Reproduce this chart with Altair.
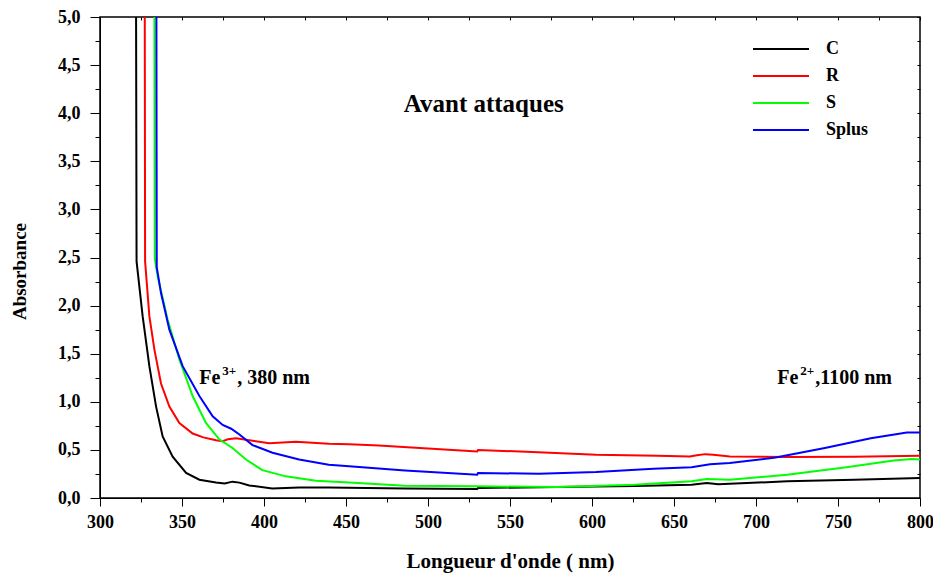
import altair as alt
import pandas as pd

series_names = ["C", "R", "S", "Splus"]
series_colors = ["#000000", "#ff0000", "#00ff00", "#0000ff"]

c_nm = [322.0, 322.3, 326.0, 330.1, 334.2, 338.2, 344.3, 352.5, 360.6, 370.7, 376.0, 380.8, 385.0, 391.0, 405.0, 421.4, 439.5, 486.0, 530.0, 530.5, 579.0, 626.0, 660.7, 670.0, 677.0, 719.0, 760.0, 800.0]
c_abs = [5.0, 2.46, 1.89, 1.37, 0.95, 0.64, 0.43, 0.26, 0.19, 0.16, 0.15, 0.17, 0.16, 0.13, 0.10, 0.11, 0.11, 0.10, 0.093, 0.104, 0.114, 0.125, 0.138, 0.156, 0.142, 0.173, 0.19, 0.207]

r_nm = [327.3, 327.5, 330.1, 333.2, 337.2, 342.3, 348.4, 356.5, 363.0, 370.7, 374.8, 378.0, 382.9, 391.0, 403.2, 419.4, 439.5, 451.9, 470.0, 500.0, 530.0, 530.5, 560.0, 602.5, 640.0, 659.6, 664.0, 669.0, 674.0, 684.0, 719.0, 760.0, 800.0]
r_abs = [5.0, 2.46, 1.89, 1.54, 1.19, 0.95, 0.78, 0.67, 0.63, 0.60, 0.59, 0.61, 0.62, 0.60, 0.57, 0.585, 0.564, 0.56, 0.545, 0.515, 0.484, 0.50, 0.48, 0.45, 0.44, 0.432, 0.445, 0.456, 0.45, 0.432, 0.425, 0.43, 0.44]

s_nm = [333.2, 333.4, 335.2, 341.3, 348.4, 356.5, 364.6, 372.7, 380.8, 389.0, 399.0, 413.3, 431.6, 452.0, 486.0, 530.0, 579.0, 626.0, 660.7, 670.0, 684.0, 719.0, 754.0, 784.0, 795.0, 800.0]
s_abs = [5.0, 2.49, 2.30, 1.85, 1.44, 1.06, 0.78, 0.61, 0.52, 0.40, 0.29, 0.225, 0.18, 0.16, 0.128, 0.121, 0.114, 0.138, 0.173, 0.197, 0.19, 0.242, 0.318, 0.39, 0.405, 0.40]

sp_nm = [334.4, 334.6, 337.2, 342.3, 350.4, 360.6, 368.7, 374.8, 380.0, 385.0, 393.0, 405.2, 421.4, 439.5, 451.9, 486.0, 530.0, 530.5, 567.6, 602.5, 637.5, 660.7, 672.0, 684.0, 712.0, 742.0, 770.0, 792.0, 800.0]
sp_abs = [5.0, 2.40, 2.13, 1.75, 1.37, 1.06, 0.85, 0.76, 0.72, 0.66, 0.55, 0.47, 0.40, 0.346, 0.33, 0.287, 0.242, 0.26, 0.252, 0.27, 0.304, 0.32, 0.35, 0.363, 0.42, 0.52, 0.62, 0.68, 0.68]

x_ticks = list(range(300, 801, 25))
y_ticks = [i * 0.25 for i in range(21)]

rows = []
for name, xs, ys in zip(series_names, [c_nm, r_nm, s_nm, sp_nm], [c_abs, r_abs, s_abs, sp_abs]):
    for i, (x, y) in enumerate(zip(xs, ys)):
        rows.append({"serie": name, "nm": x, "abs": y, "ordre": i})
df = pd.DataFrame(rows)

FONT = "Liberation Serif"
x_scale = alt.Scale(domain=[300, 800], nice=False, zero=False)
y_scale = alt.Scale(domain=[0, 5], nice=False, zero=False)

x_axis = alt.Axis(
    values=x_ticks,
    labelExpr="datum.value % 50 == 0 ? datum.label : ''",
    tickSize={"condition": {"test": "datum.value % 50 == 0", "value": 8}, "value": 4},
    labelPadding=7,
    labelFont=FONT, labelFontSize=18, labelFontWeight="bold", labelColor="black",
    title="Longueur d'onde ( nm)", titleFont=FONT, titleFontSize=21, titleFontWeight="bold",
    titleColor="black", titlePadding=19, domainColor="black", tickColor="black",
    grid=False, labelFlush=False, labelOverlap=False,
)
y_axis = alt.Axis(
    values=y_ticks,
    labelExpr="datum.value % 0.5 == 0 ? replace(format(datum.value, '.1f'), '.', ',') : ''",
    tickSize={"condition": {"test": "datum.value % 0.5 == 0", "value": 10}, "value": 5},
    labelPadding=10,
    labelFont=FONT, labelFontSize=18, labelFontWeight="bold", labelColor="black",
    title="Absorbance", titleFont=FONT, titleFontSize=19, titleFontWeight="bold",
    titleColor="black", titlePadding=28, titleY=254, domainColor="black", tickColor="black",
    grid=False, labelFlush=False, labelOverlap=False,
)

lines = alt.Chart(df).mark_line(strokeWidth=2, clip=True).encode(
    x=alt.X("nm:Q", scale=x_scale, axis=x_axis),
    y=alt.Y("abs:Q", scale=y_scale, axis=y_axis),
    color=alt.Color(
        "serie:N",
        scale=alt.Scale(domain=series_names, range=series_colors),
        legend=alt.Legend(
            orient="none", legendX=666, legendY=17, title=None,
            symbolType="M-2,0H2", symbolSize=784, symbolStrokeWidth=2,
            labelFont=FONT, labelFontSize=18, labelFontWeight="bold", labelColor="black",
            labelOffset=30, rowPadding=3,
        ),
    ),
    order="ordre:Q",
)

mirror = alt.Chart(df).mark_point(opacity=0).encode(
    x=alt.X("nm:Q", scale=x_scale, axis=alt.Axis(
        orient="top", values=x_ticks, labels=False, title=None, domain=False,
        tickColor="black", tickSize=alt.ExprRef(expr="-3"), grid=False)),
    y=alt.Y("abs:Q", scale=y_scale, axis=alt.Axis(
        orient="right", values=y_ticks, labels=False, title=None, domain=False,
        tickColor="black", tickSize=alt.ExprRef(expr="-3"), grid=False)),
)

# annotations
main_label = ["Avant attaques"]
main_x = [534]
main_y = [4.1]
fe_x = [360.5, 713.0]
fe_y = [1.19, 1.19]
fe_base = ["Fe", "Fe"]
fe_sup = ["3+", "2+"]
fe_tail = [", 380 nm", ",1100 nm"]

ann_main = pd.DataFrame({"x": main_x, "y": main_y, "t": main_label})
ann_fe = pd.DataFrame({"x": fe_x, "y": fe_y, "base": fe_base, "sup": fe_sup, "tail": fe_tail})

t_main = alt.Chart(ann_main).mark_text(
    font=FONT, fontSize=25, fontWeight="bold", color="black", align="center", baseline="middle"
).encode(x=alt.X("x:Q", scale=x_scale, axis=None), y=alt.Y("y:Q", scale=y_scale, axis=None), text="t:N")

t_base = alt.Chart(ann_fe).mark_text(
    font=FONT, fontSize=20, fontWeight="bold", color="black", align="left", baseline="alphabetic"
).encode(x=alt.X("x:Q", scale=x_scale, axis=None), y=alt.Y("y:Q", scale=y_scale, axis=None), text="base:N")
t_sup = alt.Chart(ann_fe).mark_text(
    font=FONT, fontSize=13, fontWeight="bold", color="black", align="left", baseline="alphabetic",
    dx=23, dy=-9
).encode(x=alt.X("x:Q", scale=x_scale, axis=None), y=alt.Y("y:Q", scale=y_scale, axis=None), text="sup:N")
t_tail = alt.Chart(ann_fe).mark_text(
    font=FONT, fontSize=20, fontWeight="bold", color="black", align="left", baseline="alphabetic",
    dx=38
).encode(x=alt.X("x:Q", scale=x_scale, axis=None), y=alt.Y("y:Q", scale=y_scale, axis=None), text="tail:N")

chart = alt.layer(lines, mirror, t_main, t_base, t_sup, t_tail).resolve_axis(
    x="independent", y="independent"
).properties(
    width=820, height=481,
    padding={"left": 92, "top": 9, "right": 13, "bottom": 77},
    autosize=alt.AutoSizeParams(type="none"),
    background="white",
).configure_view(stroke="black", strokeWidth=1.5)

chart.save("out.html", embed_options={"renderer": "svg", "actions": False})
